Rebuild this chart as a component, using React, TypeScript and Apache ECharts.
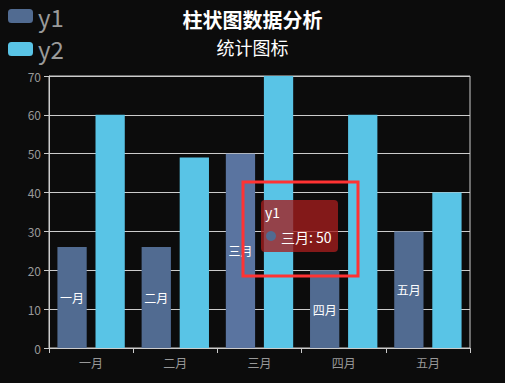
import React, { useEffect, useRef } from "react";
import * as echarts from "echarts";

const categories = ["一月", "二月", "三月", "四月", "五月"];
const y1Values = [26, 26, 50, 20, 30];
const y2Values = [60, 49, 70, 60, 40];
const tooltipTitle = "y1";
const tooltipText = "三月: 50";

export default function App() {
  const ref = useRef<HTMLDivElement>(null);
  useEffect(() => {
    const chart = echarts.init(ref.current!, null, { renderer: "svg" });
    const font = '"Noto Sans CJK SC", "Noto Sans", sans-serif';
    chart.setOption({
      animation: false,
      backgroundColor: "#0c0c0c",
      textStyle: { fontFamily: font },
      title: {
        text: "柱状图数据分析",
        subtext: "统计图标",
        left: "center",
        top: 4,
        itemGap: 9,
        textStyle: { color: "#ffffff", fontSize: 20, fontWeight: "bold", fontFamily: font },
        subtextStyle: { color: "#ffffff", fontSize: 18, fontFamily: font },
      },
      legend: {
        orient: "vertical",
        left: 3,
        top: -1,
        itemWidth: 25,
        itemHeight: 14,
        itemGap: 9,
        textStyle: { color: "#9a9a9a", fontSize: 24, fontFamily: font },
        data: ["y1", "y2"],
      },
      grid: {
        left: 49,
        right: 35,
        top: 76,
        bottom: 35,
        show: true,
        borderColor: "#cccccc",
        borderWidth: 1,
      },
      xAxis: {
        type: "category",
        data: categories,
        axisLine: { lineStyle: { color: "#cccccc" } },
        axisTick: { show: true, length: 5, lineStyle: { color: "#cccccc" } },
        axisLabel: { color: "#999999", fontSize: 12, margin: 8 },
      },
      yAxis: {
        type: "value",
        min: 0,
        max: 70,
        interval: 10,
        axisLine: { show: true, lineStyle: { color: "#cccccc" } },
        axisTick: { show: true, length: 5, lineStyle: { color: "#cccccc" } },
        axisLabel: { color: "#999999", fontSize: 12 },
        splitLine: { lineStyle: { color: "#cccccc" } },
      },
      series: [
        {
          name: "y1",
          type: "bar",
          barGap: "30%",
          barCategoryGap: "20%",
          data: y1Values.map((v, i) =>
            i === 2 ? { value: v, itemStyle: { color: "#5a74a0" } } : v
          ),
          itemStyle: { color: "#516b91" },
          label: {
            show: true,
            position: "inside",
            formatter: (p: any) => p.name,
            color: "#ffffff",
            fontSize: 12,
          },
        },
        {
          name: "y2",
          type: "bar",
          barGap: "30%",
          barCategoryGap: "20%",
          data: y2Values,
          itemStyle: { color: "#59c4e6" },
        },
      ],
      graphic: [
        {
          type: "rect",
          shape: { x: 261, y: 200, width: 77, height: 52, r: 4 },
          style: { fill: "rgba(165,30,30,0.78)" },
          z: 100,
        },
        {
          type: "text",
          x: 265,
          y: 212,
          style: {
            text: tooltipTitle,
            fill: "#ffffff",
            font: `14px ${font}`,
            textVerticalAlign: "middle",
          },
          z: 101,
        },
        {
          type: "circle",
          shape: { cx: 271, cy: 236, r: 5 },
          style: { fill: "#516b91" },
          z: 101,
        },
        {
          type: "text",
          x: 281,
          y: 237,
          style: {
            text: tooltipText,
            fill: "#ffffff",
            font: `14px ${font}`,
            textVerticalAlign: "middle",
          },
          z: 101,
        },
        {
          type: "rect",
          shape: { x: 243, y: 182, width: 115, height: 94 },
          style: { fill: "none", stroke: "#ff3333", lineWidth: 3 },
          z: 102,
        },
      ],
    });
    return () => chart.dispose();
  }, []);
  return <div ref={ref} style={{ width: 505, height: 383, position: "absolute", left: 0, top: 0 }} />;
}
